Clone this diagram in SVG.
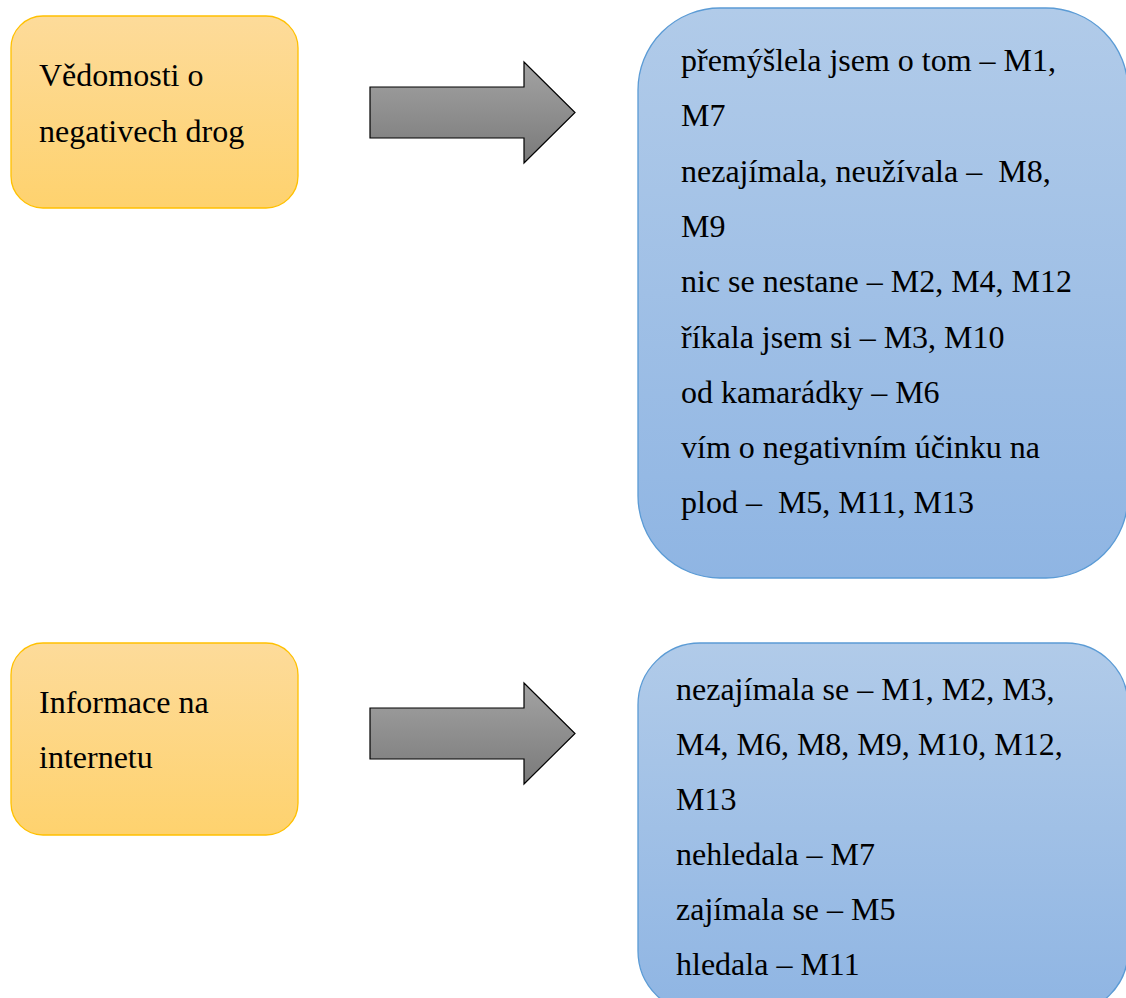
<svg xmlns="http://www.w3.org/2000/svg" width="1126" height="998" viewBox="0 0 1126 998">
  <defs>
    <linearGradient id="gOrange" x1="0" y1="0" x2="0" y2="1">
      <stop offset="0" stop-color="#FDDB9A"/>
      <stop offset="1" stop-color="#FED26E"/>
    </linearGradient>
    <linearGradient id="gBlue" x1="0" y1="0" x2="0" y2="1">
      <stop offset="0" stop-color="#B1CBE9"/>
      <stop offset="1" stop-color="#8FB5E3"/>
    </linearGradient>
    <linearGradient id="gArrow" x1="0" y1="0" x2="0" y2="1">
      <stop offset="0" stop-color="#A3A3A3"/>
      <stop offset="1" stop-color="#7A7A7A"/>
    </linearGradient>
  </defs>
  <style>
    .orange { fill: url(#gOrange); stroke: #FFC000; stroke-width: 1.3; }
    .blue { fill: url(#gBlue); stroke: #5B9BD5; stroke-width: 1.3; }
    .arrow { fill: url(#gArrow); stroke: #000; stroke-width: 1.2; stroke-linejoin: miter; }
    text { font-family: "Liberation Serif", "Times New Roman", serif; font-size: 32px; fill: #000; white-space: pre; }
  </style>
  <rect width="1126" height="998" fill="#fff"/>

  <!-- topic: knowledge of drug harms -->
  <g id="node-vedomosti">
    <rect class="orange" x="11" y="16" width="287" height="192" rx="32" ry="32"/>
    <text x="39" y="86">Vědomosti o</text>
    <text x="39" y="142">negativech drog</text>
  </g>

  <g id="node-vedomosti-odpovedi">
    <rect class="blue" x="638" y="8" width="490" height="570" rx="82" ry="82"/>
    <text x="681" y="71">přemýšlela jsem o tom – M1,</text>
    <text x="681" y="126.3">M7</text>
    <text x="681" y="181.6" xml:space="preserve">nezajímala, neužívala –  M8,</text>
    <text x="681" y="236.9">M9</text>
    <text x="681" y="292.2">nic se nestane – M2, M4, M12</text>
    <text x="681" y="347.5">říkala jsem si – M3, M10</text>
    <text x="681" y="402.8">od kamarádky – M6</text>
    <text x="681" y="458.1">vím o negativním účinku na</text>
    <text x="681" y="513.4" xml:space="preserve">plod –  M5, M11, M13</text>
  </g>

  <!-- topic: information on the internet -->
  <g id="node-internet">
    <rect class="orange" x="11" y="643" width="287" height="192" rx="32" ry="32"/>
    <text x="39" y="713">Informace na</text>
    <text x="39" y="768">internetu</text>
  </g>

  <g id="node-internet-odpovedi">
    <rect class="blue" x="638" y="643" width="490" height="370" rx="62" ry="62"/>
    <text x="676" y="700">nezajímala se – M1, M2, M3,</text>
    <text x="676" y="755">M4, M6, M8, M9, M10, M12,</text>
    <text x="676" y="810">M13</text>
    <text x="676" y="865">nehledala – M7</text>
    <text x="676" y="920">zajímala se – M5</text>
    <text x="676" y="975">hledala – M11</text>
  </g>

  <!-- block arrows -->
  <g id="connectors">
    <polygon class="arrow" points="370,87 524,87 524,62 575,112.5 524,163 524,138 370,138"/>
    <polygon class="arrow" points="370,708 524,708 524,683 575,733.5 524,784 524,759 370,759"/>
  </g>
</svg>
